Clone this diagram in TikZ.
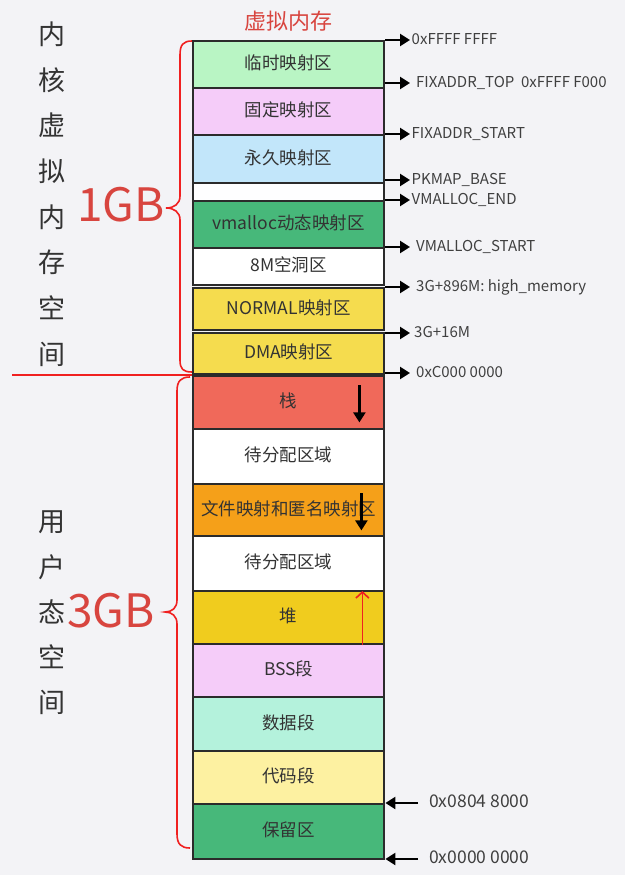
\documentclass[tikz,border=0pt]{standalone}
\usepackage{fontspec}
\setmainfont{Noto Sans CJK SC}
\usetikzlibrary{arrows.meta}
\definecolor{bg}{HTML}{F3F3F6}
\definecolor{boxline}{HTML}{2B2B2B}
\definecolor{txt}{HTML}{333333}
\definecolor{labtxt}{HTML}{404040}
\definecolor{redln}{HTML}{F02020}
\definecolor{redtxt}{HTML}{D8453F}
\definecolor{cgreenl}{HTML}{B9F5C4}
\definecolor{cpink}{HTML}{F5CCF9}
\definecolor{cblue}{HTML}{C2E6FA}
\definecolor{cgreen}{HTML}{47B87A}
\definecolor{cyellow}{HTML}{F5DC4E}
\definecolor{cred}{HTML}{F0695A}
\definecolor{corange}{HTML}{F5A019}
\definecolor{cheap}{HTML}{F0CC1E}
\definecolor{cmint}{HTML}{B4F2DC}
\definecolor{cpale}{HTML}{FDF1A1}
\begin{document}
\begin{tikzpicture}[x=1pt,y=-1pt,
  blk/.style={draw=boxline, line width=2.4pt, minimum width=191pt, inner sep=0pt,
    anchor=north west, text=txt, font=\fontsize{17.5}{20}\selectfont,
    text height=0.98em, text depth=0pt},
  lab/.style={anchor=west, inner xsep=1.5pt, inner ysep=0pt, text=labtxt,
    font=\fontsize{15}{17}\selectfont, text height=0.93em, text depth=0pt},
  blab/.style={lab, font=\fontsize{17.5}{19}\selectfont, inner xsep=11pt},
  arr/.style={-{Triangle[length=10pt,width=12pt]}, line width=2.3pt, black},
  brc/.style={draw=redln, line width=1.6pt},
  big/.style={text=redtxt, font=\fontsize{46}{50}\selectfont, inner sep=0pt},
  vtxt/.style={text=txt, align=center, inner sep=0pt}]
\fill[bg] (0,0) rectangle (625,875);
\useasboundingbox (0,0) rectangle (625,875);

% title
\node[text=redtxt, font=\fontsize{22}{24}\selectfont] (title) at (288,21) {虚拟内存};

% kernel blocks
\node[blk, fill=cgreenl, minimum height=47pt] (k1) at (192,40) {临时映射区};
\node[blk, fill=cpink, minimum height=47pt] (k2) at (192,87) {固定映射区};
\node[blk, fill=cblue, minimum height=48pt] (k3) at (192,134) {永久映射区};
\node[blk, fill=white!95!bg, minimum height=18pt] (k4) at (192,182) {};
\node[blk, fill=cgreen, minimum height=47pt] (k5) at (192,200) {vmalloc动态映射区};
\node[blk, fill=white, minimum height=37pt] (k6) at (192,247) {8M空洞区};
\node[blk, fill=cyellow, minimum height=42pt] (k7) at (192,287) {NORMAL映射区};
\node[blk, fill=cyellow, minimum height=41pt] (k8) at (192,332) {DMA映射区};

% user blocks
\node[blk, fill=cred, minimum height=53pt] (u1) at (192,375) {栈};
\node[blk, fill=white, minimum height=55pt] (u2) at (192,428) {待分配区域};
\node[blk, fill=corange, minimum height=52pt] (u3) at (192,483) {文件映射和匿名映射区};
\node[blk, fill=white, minimum height=55pt] (u4) at (192,535) {待分配区域};
\node[blk, fill=cheap, minimum height=53pt] (u5) at (192,590) {堆};
\node[blk, fill=cpink, minimum height=53pt] (u6) at (192,643) {BSS段};
\node[blk, fill=cmint, minimum height=54pt] (u7) at (192,696) {数据段};
\node[blk, fill=cpale, minimum height=53pt] (u8) at (192,750) {代码段};
\node[blk, fill=cgreen, minimum height=55pt] (u9) at (192,803) {保留区};

% kernel address labels
\node[lab] (a1) at (410,40) {0xFFFF FFFF};
\node[lab, inner xsep=6pt] (a2) at (410,83) {FIXADDR\_TOP\ \ 0xFFFF F000};
\node[lab] (a3) at (410,134) {FIXADDR\_START};
\node[lab] (a4) at (410,180) {PKMAP\_BASE};
\node[lab] (a5) at (410,200) {VMALLOC\_END};
\node[lab, inner xsep=6pt] (a6) at (410,247) {VMALLOC\_START};
\node[lab, inner xsep=6pt] (a7) at (410,287) {3G+896M: high\_memory};
\node[lab, inner xsep=4pt] (a8) at (410,333) {3G+16M};
\node[lab, inner xsep=6pt] (a9) at (410,373) {0xC000 0000};
\foreach \a/\k in {a1/k1,a2/k1,a3/k2,a4/k3,a5/k4,a6/k5,a7/k6,a8/k7,a9/k8}
  \draw[arr] (\k.east |- \a.west) -- (\a.west);

% user address labels
\node[blab] (b1) at (418,803) {0x0804 8000};
\node[blab] (b2) at (418,859) {0x0000 0000};
\draw[arr] (b1.west) -- (b1.west -| u8.east);
\draw[arr] (b2.west) -- (b2.west -| u9.east);

% growth arrows
\draw[arr] ([xshift=-26pt,yshift=-10pt]u1.north east) -- ([xshift=-26pt,yshift=8pt]u1.south east);
\draw[arr] ([xshift=-24pt,yshift=-10pt]u3.north east) -- ([xshift=-24pt,yshift=7pt]u3.south east);
\draw[redln, line width=1.6pt, -{Straight Barb[length=6pt,width=13pt]}]
  ([xshift=-23pt]u5.south east) -- ([xshift=-23pt,yshift=-1pt]u5.north east);

% separator
\coordinate (sepL) at (12,375);
\draw[redln, line width=1.6pt] (sepL) -- (sepL -| u1.west);

% braces
\draw[brc] (192,41) .. controls (183,41) and (180,45) .. (180,55) -- (180,196)
  .. controls (180,204) and (174,208) .. (166,208)
  .. controls (174,208) and (180,212) .. (180,220) -- (180,360)
  .. controls (180,369) and (183,372) .. (192,372);
\draw[brc] (190,377) .. controls (181,377) and (177,381) .. (177,391) -- (177,600)
  .. controls (177,608) and (172,612) .. (165,612)
  .. controls (172,612) and (177,616) .. (177,624) -- (177,834)
  .. controls (177,844) and (181,848) .. (190,848);

\node[big] (g1) at (121,205) {1GB};
\node[big] (g3) at (111,611) {3GB};

% vertical captions
\node[vtxt, font=\fontsize{27}{45.7}\selectfont] (kv) at (52,194) {内\\核\\虚\\拟\\内\\存\\空\\间};
\node[vtxt, font=\fontsize{27}{45.2}\selectfont] (uv) at (52,613) {用\\户\\态\\空\\间};
\end{tikzpicture}
\end{document}
